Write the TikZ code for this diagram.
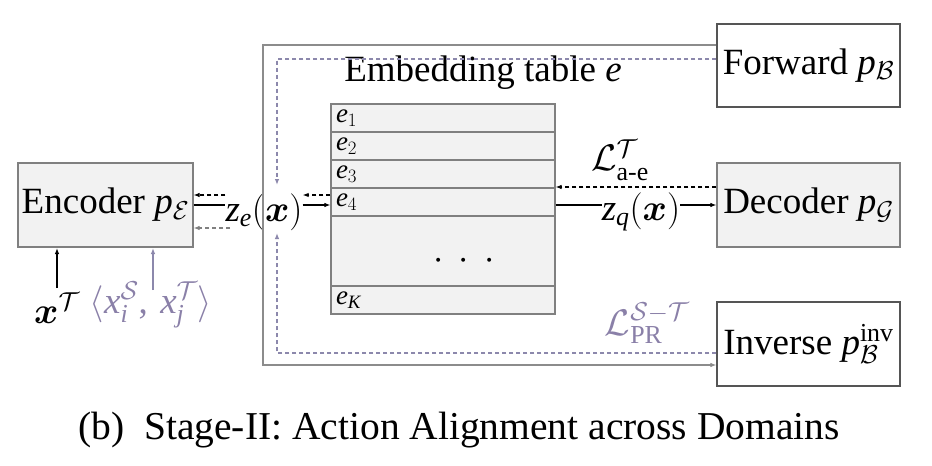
\RequirePackage{fix-cm}
\documentclass[tikz,border=0pt]{standalone}
\usepackage{amsmath}
\usepackage{bm}
\usepackage{fontspec}
\setmainfont{Liberation Serif}
\DeclareSymbolFont{letters}{TU}{\rmdefault}{m}{it}
\SetSymbolFont{letters}{bold}{TU}{\rmdefault}{b}{it}
\usetikzlibrary{arrows.meta}
\definecolor{cellfill}{HTML}{F2F2F2}
\definecolor{boxline}{HTML}{808080}
\definecolor{darkline}{HTML}{555555}
\definecolor{purp}{HTML}{8A80A8}
\definecolor{purpline}{HTML}{8C88AC}
\definecolor{outline}{HTML}{8C8C8C}
\begin{document}
\begin{tikzpicture}[x=1pt,y=-1pt,
  every node/.style={font=\fontsize{37}{42}\selectfont, inner sep=0pt},
  arr/.style={-{Latex[length=6pt,width=4.5pt]}},
  conn/.style={line width=1.1pt},
  dsh/.style={line width=1.1pt, dash pattern=on 4pt off 3pt},
  graybox/.style={draw=boxline, fill=cellfill, line width=1.2pt, minimum width=175pt, minimum height=84pt},
  whitebox/.style={draw=darkline, fill=white, line width=1.2pt, minimum width=183pt, minimum height=83pt},
  cell/.style={draw=boxline, fill=cellfill, line width=1.2pt, minimum height=28pt, text width=214pt, inner xsep=5pt, align=left, font=\fontsize{27}{30}\selectfont},
]
\useasboundingbox (0,0) rectangle (932,466);

% boxes
\node[graybox] (enc) at (105.5,205) {Encoder $p_{\mathcal{E}}$};
\node[whitebox] (fwd) at (808.5,65.5) {Forward $p_{\mathcal{B}}$};
\node[graybox, minimum width=183pt] (dec) at (808.5,205) {Decoder $p_{\mathcal{G}}$};
\node[whitebox, minimum height=84pt] (inv) at (808.5,344) {Inverse $p_{\mathcal{B}}^{\mathrm{inv}}$};

% embedding table
\node (title) at (483,73) {Embedding table $e$};
\node[cell] (e1) at (443,118) {$e_1$};
\node[cell] (e2) at (443,146) {$e_2$};
\node[cell] (e3) at (443,174) {$e_3$};
\node[cell] (e4) at (443,202) {$e_4$};
\node[cell, minimum height=70pt] (eb) at (443,251) {};
\node[cell] (eK) at (443,300) {$e_K$};
\node (dots) at (464,261) {$\cdot$\hspace{15pt}$\cdot$\hspace{15pt}$\cdot$};

% latent labels
\node (ze) at (264,212) {$z_e(\bm{x})$};
\node (zq) at (641,212) {$z_q(\bm{x})$};
\node (lae) at (620,160) {$\mathcal{L}^{\mathcal{T}}_{\mathrm{a\text{-}e}}$};
\node[text=purp] (lpr) at (647,323) {$\mathcal{L}_{\mathrm{PR}}^{\mathcal{S}-\mathcal{T}}$};

% inputs
\node (xT) at (57,308) {$\bm{x}^{\mathcal{T}}$};
\node[text=purp] (pair) at (151,305) {$\langle x_i^{\mathcal{S}}\mathpunct{\text{,}}\, x_j^{\mathcal{T}}\rangle$};

% helper rows
\coordinate (ysol) at (0,205);
\coordinate (ydsh) at (0,195);
\coordinate (ygr) at (0,228);
\coordinate (ydec) at (0,187);
\coordinate (tl) at (263,45);
\coordinate (bl) at (263,365);
\coordinate (dtl) at (277,59);
\coordinate (dbl) at (277,353);
\coordinate (zetop) at (277,185);
\coordinate (zebot) at (277,233);

% encoder <-> z_e
\draw[conn] (enc.east |- ysol) -- (ze.west |- ysol);
\draw[dsh, arr] (ze.west |- ydsh) -- (enc.east |- ydsh);
\draw[dsh, arr, draw=boxline] (230,228) -- (enc.east |- ygr);

% z_e <-> table
\draw[conn, arr] (ze.east |- ysol) -- (e4.west |- ysol);
\draw[dsh, arr] (e4.west |- ydsh) -- (ze.east |- ydsh);

% table <-> decoder
\draw[conn] (e4.east |- ysol) -- (zq.west |- ysol);
\draw[conn, arr] (zq.east |- ysol) -- (dec.west |- ysol);
\draw[dsh, arr] (dec.west |- ydec) -- (e4.east |- ydec);

% forward / inverse loops
\draw[conn, draw=outline, arr] (fwd.west |- tl) -- (tl) -- (bl) -- (inv.west |- bl);
\draw[dsh, draw=purpline, arr] (fwd.west |- dtl) -- (dtl) -- (zetop);
\draw[dsh, draw=purpline, arr] (inv.west |- dbl) -- (dbl) -- (zebot);

% inputs to encoder
\draw[conn, arr] (57,288) -- (57,248);
\draw[conn, draw=purpline, arr] (153,290) -- (153,248);

% caption
\node[font=\fontsize{39.5}{44}\selectfont] (cap) at (459,430) {(b)\enspace Stage-II: Action Alignment across Domains};
\end{tikzpicture}
\end{document}
